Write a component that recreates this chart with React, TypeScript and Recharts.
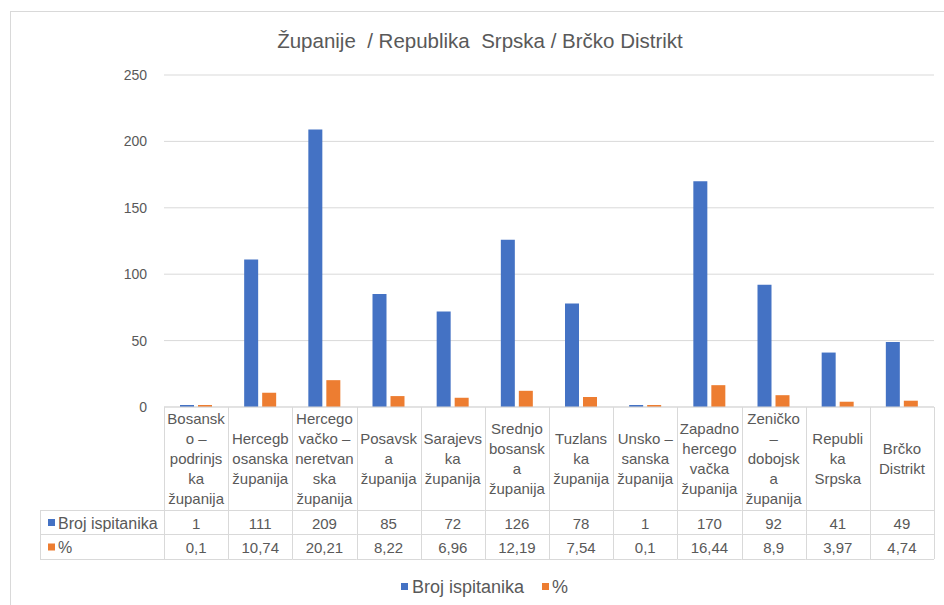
import React from "react";
import { BarChart, Bar, XAxis, YAxis, CartesianGrid, Customized } from "recharts";

// ---- data ----
const categories = [
  "Bosansko – podrinjska županija",
  "Hercegbosanska županija",
  "Hercegovačko – neretvanska županija",
  "Posavska županija",
  "Sarajevska županija",
  "Srednjobosanska županija",
  "Tuzlanska županija",
  "Unsko – sanska županija",
  "Zapadnohercegovačka županija",
  "Zeničko – dobojska županija",
  "Republika Srpska",
  "Brčko Distrikt",
];
const headerLabels = [
  ["Bosansk", "o –", "podrinjs", "ka", "županija"],
  ["Hercegb", "osanska", "županija"],
  ["Hercego", "vačko –", "neretvan", "ska", "županija"],
  ["Posavsk", "a", "županija"],
  ["Sarajevs", "ka", "županija"],
  ["Srednjo", "bosansk", "a", "županija"],
  ["Tuzlans", "ka", "županija"],
  ["Unsko –", "sanska", "županija"],
  ["Zapadno", "hercego", "vačka", "županija"],
  ["Zeničko", "–", "dobojsk", "a", "županija"],
  ["Republi", "ka", "Srpska"],
  ["Brčko", "Distrikt"],
];
const brojIspitanika = [1, 111, 209, 85, 72, 126, 78, 1, 170, 92, 41, 49];
const procenat = [0.1, 10.74, 20.21, 8.22, 6.96, 12.19, 7.54, 0.1, 16.44, 8.9, 3.97, 4.74];
const yTicks = [0, 50, 100, 150, 200, 250];
const seriesNames = ["Broj ispitanika", "%"];
const title = "Županije  / Republika  Srpska / Brčko Distrikt";

const data = categories.map((name, i) => ({
  name,
  broj: brojIspitanika[i],
  pct: procenat[i],
}));

// ---- layout / style ----
const W = 944;
const H = 605;
const PLOT_LEFT = 164;
const PLOT_RIGHT = 934;
const PLOT_TOP = 75;
const PLOT_BOTTOM = 407;
const HEADER_BOTTOM = 510;
const ROW1_BOTTOM = 534;
const ROW2_BOTTOM = 559;
const TABLE_LEFT = 40;
const COL_W = (PLOT_RIGHT - PLOT_LEFT) / categories.length;
const BLUE = "#4472C4";
const ORANGE = "#ED7D31";
const GRID = "#D9D9D9";
const TEXT = "#595959";
const FONT = "Liberation Sans, Arial, sans-serif";

const textStyle = (size: number): React.CSSProperties => ({
  fontFamily: FONT,
  fontSize: size,
  fill: TEXT,
  whiteSpace: "pre",
});

const fmt = (v: number) => String(v).replace(".", ",");

function TableColumn(props: any) {
  const { x, index } = props;
  const left = x - COL_W / 2;
  const right = x + COL_W / 2;
  const lines = headerLabels[index] || [];
  const lh = 20;
  const midY = (PLOT_BOTTOM + HEADER_BOTTOM) / 2;
  const firstY = midY - ((lines.length - 1) * lh) / 2;
  const r = Math.round(right) + 0.5;
  const l = Math.round(left) + 0.5;
  return (
    <g>
      <line x1={r} x2={r} y1={PLOT_BOTTOM} y2={ROW2_BOTTOM} stroke={GRID} />
      {index === 0 && <line x1={l} x2={l} y1={PLOT_BOTTOM} y2={ROW2_BOTTOM} stroke={GRID} />}
      <line x1={left} x2={right} y1={HEADER_BOTTOM + 0.5} y2={HEADER_BOTTOM + 0.5} stroke={GRID} />
      <line x1={left} x2={right} y1={ROW1_BOTTOM + 0.5} y2={ROW1_BOTTOM + 0.5} stroke={GRID} />
      <line x1={left} x2={right} y1={ROW2_BOTTOM + 0.5} y2={ROW2_BOTTOM + 0.5} stroke={GRID} />
      {lines.map((t, k) => (
        <text key={k} x={x} y={firstY + k * lh} textAnchor="middle" dominantBaseline="central" style={textStyle(15)}>
          {t}
        </text>
      ))}
      <text x={x} y={(HEADER_BOTTOM + ROW1_BOTTOM) / 2 + 1} textAnchor="middle" dominantBaseline="central" style={textStyle(15)}>
        {brojIspitanika[index]}
      </text>
      <text x={x} y={(ROW1_BOTTOM + ROW2_BOTTOM) / 2 + 1} textAnchor="middle" dominantBaseline="central" style={textStyle(15)}>
        {fmt(procenat[index])}
      </text>
    </g>
  );
}

function Decorations() {
  const colors = [BLUE, ORANGE];
  const rowMid = [(HEADER_BOTTOM + ROW1_BOTTOM) / 2, (ROW1_BOTTOM + ROW2_BOTTOM) / 2];
  return (
    <g>
      {/* outer chart frame */}
      <line x1={10.5} x2={10.5} y1={11} y2={H} stroke={GRID} />
      <line x1={10} x2={W} y1={11.5} y2={11.5} stroke={GRID} />
      {/* title */}
      <text x={480} y={48} textAnchor="middle" style={textStyle(20.5)}>
        {title}
      </text>
      {/* table label column */}
      <line x1={TABLE_LEFT + 0.5} x2={TABLE_LEFT + 0.5} y1={HEADER_BOTTOM} y2={ROW2_BOTTOM + 1} stroke={GRID} />
      <line x1={TABLE_LEFT} x2={PLOT_LEFT} y1={HEADER_BOTTOM + 0.5} y2={HEADER_BOTTOM + 0.5} stroke={GRID} />
      <line x1={TABLE_LEFT} x2={PLOT_LEFT} y1={ROW1_BOTTOM + 0.5} y2={ROW1_BOTTOM + 0.5} stroke={GRID} />
      <line x1={TABLE_LEFT} x2={PLOT_LEFT} y1={ROW2_BOTTOM + 0.5} y2={ROW2_BOTTOM + 0.5} stroke={GRID} />
      {seriesNames.map((n, i) => (
        <g key={n}>
          <rect x={48} y={rowMid[i] - 3} width={7} height={7} fill={colors[i]} />
          <text x={58} y={rowMid[i] + 1} dominantBaseline="central" style={textStyle(16)}>
            {n}
          </text>
        </g>
      ))}
      {/* legend */}
      <rect x={401} y={583} width={7} height={7} fill={BLUE} />
      <text x={412} y={587} dominantBaseline="central" style={textStyle(18)}>
        {seriesNames[0]}
      </text>
      <rect x={542} y={583} width={7} height={7} fill={ORANGE} />
      <text x={552} y={587} dominantBaseline="central" style={textStyle(18)}>
        {seriesNames[1]}
      </text>
    </g>
  );
}

export default function App() {
  return (
    <div style={{ position: "absolute", left: 0, top: 0, width: W, height: H, background: "#fff" }}>
      <BarChart
        width={W}
        height={H}
        data={data}
        margin={{ top: PLOT_TOP, right: W - PLOT_RIGHT, bottom: 0, left: PLOT_LEFT - 60 }}
        barSize={14}
        barGap={4}
      >
        <CartesianGrid vertical={false} stroke={GRID} />
        <XAxis
          dataKey="name"
          height={H - PLOT_BOTTOM}
          interval={0}
          tickLine={false}
          axisLine={{ stroke: GRID }}
          tick={<TableColumn />}
        />
        <YAxis
          width={60}
          domain={[0, 250]}
          ticks={yTicks}
          axisLine={false}
          tickLine={false}
          tickMargin={11}
          tick={{ fill: TEXT, fontSize: 14, fontFamily: FONT }}
        />
        <Bar dataKey="broj" name={seriesNames[0]} fill={BLUE} minPointSize={2} isAnimationActive={false} />
        <Bar dataKey="pct" name={seriesNames[1]} fill={ORANGE} minPointSize={2} isAnimationActive={false} />
        <Customized component={Decorations} />
      </BarChart>
    </div>
  );
}
